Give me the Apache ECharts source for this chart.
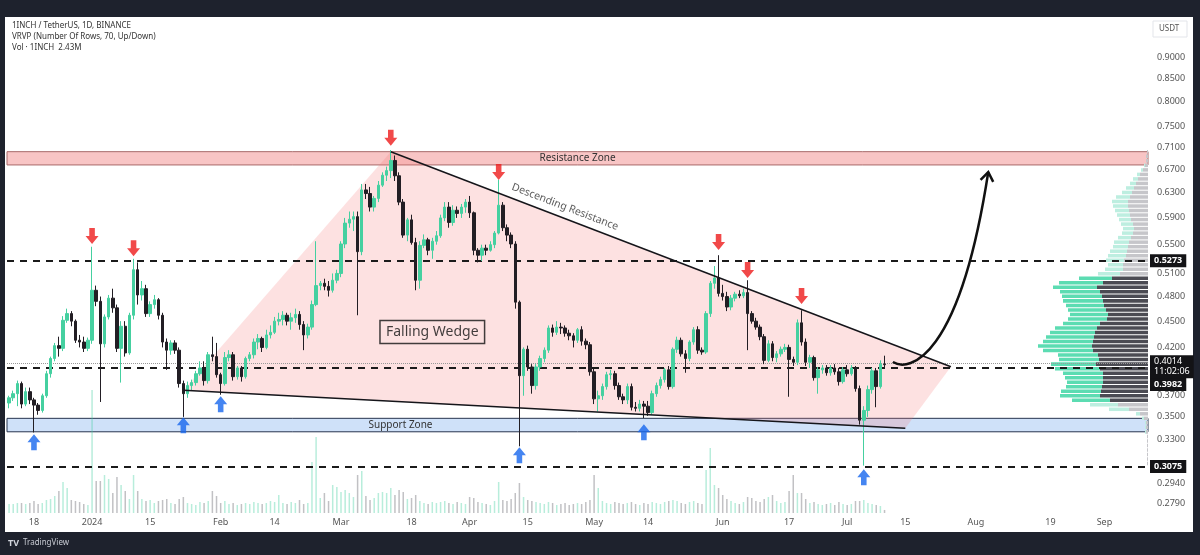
<!DOCTYPE html>
<html><head><meta charset="utf-8">
<script src="https://cdn.jsdelivr.net/npm/echarts@6/dist/echarts.min.js"></script>
<style>html,body{margin:0;padding:0;background:#1e222d;}#c{width:1200px;height:555px;}</style>
</head><body><div id="c"></div>
<script>
// ---------------- DATA ----------------
const startDate = '2023-12-12';   // first daily candle
const dayCount = 275;             // categories shown on the time axis (to Sep 11)
// daily candles [open, high, low, close], from 2023-12-12
const ohlc = [
[.363,.370,.358,.368],[.368,.375,.365,.372],[.372,.385,.360,.382],[.382,.384,.358,.362],[.362,.378,.360,.374],[.374,.378,.362,.366],
[.366,.368,.336,.361],[.361,.363,.352,.356],[.356,.372,.354,.370],[.370,.395,.368,.392],[.392,.410,.388,.408],[.408,.425,.405,.422],
[.422,.432,.410,.419],[.419,.456,.416,.451],[.451,.465,.448,.459],[.459,.462,.444,.450],[.450,.452,.425,.428],[.428,.434,.420,.426],
[.426,.432,.415,.419],[.419,.431,.416,.428],[.428,.547,.424,.488],[.488,.494,.468,.474],[.474,.480,.364,.424],[.424,.458,.420,.455],
[.455,.482,.452,.478],[.478,.490,.460,.466],[.466,.470,.415,.419],[.419,.450,.383,.444],[.444,.450,.410,.414],[.414,.460,.412,.457],
[.457,.530,.452,.515],[.515,.525,.470,.482],[.482,.500,.475,.490],[.490,.495,.455,.459],[.459,.474,.455,.470],[.470,.482,.465,.476],
[.476,.478,.452,.457],[.457,.460,.420,.426],[.426,.430,.396,.417],[.417,.428,.412,.425],[.425,.428,.413,.417],[.417,.420,.378,.382],
[.382,.385,.350,.372],[.372,.384,.368,.380],[.380,.386,.375,.383],[.383,.395,.380,.392],[.392,.405,.390,.398],[.398,.405,.380,.385],
[.385,.415,.382,.412],[.412,.432,.405,.410],[.410,.425,.388,.391],[.391,.393,.371,.382],[.382,.415,.380,.409],[.409,.417,.405,.412],
[.412,.415,.385,.389],[.389,.400,.386,.398],[.398,.400,.384,.389],[.389,.410,.387,.408],[.408,.415,.405,.412],[.412,.430,.408,.426],
[.426,.435,.418,.430],[.430,.432,.415,.420],[.420,.440,.418,.434],[.434,.445,.430,.437],[.437,.455,.435,.450],[.450,.460,.445,.452],
[.452,.462,.445,.457],[.457,.460,.445,.450],[.450,.460,.440,.454],[.454,.465,.448,.458],[.458,.462,.440,.446],[.446,.450,.417,.434],
[.434,.447,.430,.443],[.443,.475,.440,.470],[.470,.555,.468,.494],[.494,.500,.488,.497],[.497,.503,.488,.493],[.493,.500,.480,.488],
[.488,.510,.485,.501],[.501,.515,.497,.510],[.510,.555,.505,.551],[.551,.590,.545,.582],[.582,.600,.575,.588],[.588,.600,.570,.592],
[.592,.600,.457,.540],[.540,.645,.535,.635],[.635,.645,.620,.629],[.629,.640,.600,.607],[.607,.625,.600,.621],[.621,.650,.615,.643],
[.643,.665,.640,.660],[.660,.675,.650,.668],[.668,.705,.655,.686],[.686,.695,.650,.659],[.659,.665,.610,.615],[.615,.620,.560,.564],
[.564,.590,.555,.587],[.587,.595,.550,.553],[.553,.560,.488,.501],[.501,.555,.490,.549],[.549,.565,.545,.557],[.557,.560,.535,.542],
[.542,.560,.530,.555],[.555,.570,.550,.563],[.563,.595,.560,.590],[.590,.615,.585,.607],[.607,.615,.575,.583],[.583,.610,.578,.602],
[.602,.608,.590,.597],[.597,.612,.590,.607],[.607,.620,.598,.615],[.615,.625,.590,.598],[.598,.600,.535,.542],[.542,.545,.525,.535],
[.535,.550,.527,.545],[.545,.550,.535,.542],[.542,.555,.540,.550],[.550,.570,.545,.567],[.567,.652,.565,.610],[.610,.615,.570,.575],
[.575,.580,.555,.564],[.564,.568,.545,.551],[.551,.555,.465,.473],[.473,.475,.324,.390],[.390,.420,.370,.418],[.418,.422,.395,.399],
[.399,.402,.372,.380],[.380,.402,.376,.399],[.399,.411,.395,.408],[.408,.420,.404,.417],[.417,.445,.414,.442],[.442,.446,.432,.437],
[.437,.450,.434,.443],[.443,.448,.435,.442],[.442,.445,.432,.436],[.436,.440,.428,.433],[.433,.436,.420,.428],[.428,.442,.425,.440],
[.440,.444,.422,.427],[.427,.430,.418,.423],[.423,.426,.390,.394],[.394,.397,.362,.367],[.367,.375,.355,.370],[.370,.382,.366,.379],
[.379,.394,.376,.391],[.391,.396,.386,.392],[.392,.395,.376,.380],[.380,.383,.366,.369],[.369,.372,.362,.366],[.366,.382,.362,.379],
[.379,.382,.356,.359],[.359,.364,.355,.358],[.358,.366,.355,.362],[.362,.365,.349,.360],[.360,.365,.351,.354],[.354,.375,.352,.372],
[.372,.383,.369,.380],[.380,.389,.377,.386],[.386,.398,.383,.396],[.396,.400,.376,.379],[.379,.420,.377,.418],[.418,.432,.414,.428],
[.428,.431,.410,.413],[.413,.417,.393,.408],[.408,.428,.405,.426],[.426,.443,.423,.440],[.440,.444,.413,.417],[.417,.420,.412,.415],
[.415,.462,.413,.459],[.459,.500,.455,.497],[.497,.520,.490,.504],[.504,.535,.480,.484],[.484,.495,.475,.480],[.480,.486,.462,.467],
[.467,.482,.463,.478],[.478,.486,.474,.483],[.483,.488,.478,.481],[.481,.490,.478,.485],[.485,.501,.417,.459],[.459,.462,.447,.450],
[.450,.454,.440,.443],[.443,.446,.428,.432],[.432,.435,.402,.406],[.406,.428,.404,.424],[.424,.427,.405,.409],[.409,.416,.404,.413],
[.413,.421,.410,.418],[.418,.424,.415,.420],[.420,.423,.369,.407],[.407,.410,.400,.404],[.404,.452,.401,.448],[.448,.463,.422,.426],
[.426,.430,.400,.404],[.404,.412,.398,.409],[.409,.411,.385,.388],[.388,.399,.372,.396],[.396,.401,.392,.398],[.398,.401,.390,.393],
[.393,.401,.390,.398],[.398,.402,.391,.394],[.394,.398,.380,.384],[.384,.399,.382,.396],[.396,.401,.389,.392],[.392,.401,.390,.398],
[.398,.400,.374,.377],[.377,.380,.343,.347],[.347,.360,.308,.356],[.356,.380,.350,.376],[.376,.398,.372,.395],[.395,.398,.359,.379],
[.379,.406,.377,.402],[.402,.411,.398,.4014]
];
// daily volume, millions of 1INCH
const volumes = [
7.2,7.2,8,8,7.2,8,
9.6,7.2,8,10.4,11.2,13.6,17.6,24.8,20,10.4,9.6,8.8,7.2,6.4,
98.4,25.6,25.6,30.4,27.2,16,28.8,22.4,17.6,11.2,30.4,17.6,11.2,9.6,10.4,8,
9.6,10.4,11.2,8,7.2,11.2,12.8,8,7.2,6.4,8.8,8,9.6,17.6,13.6,8,
9.6,7.2,8,6.4,7.2,8,7.2,8.8,8,7.2,8,9.6,8.8,14.4,8,7.2,
8.8,8,10.4,7.2,8,40.8,60.8,12,16,9.6,22.4,20.8,16.8,18.4,16,12.8,
30.4,33.6,13.6,10.4,12,16,16.8,16,20,14.4,18.4,16.8,11.2,12,14.4,9.6,
8,7.2,8.8,8,8.8,9.6,8,7.2,8.8,8,7.2,12.8,12,8.8,8,7.2,
6.4,9.6,24.8,10.4,9.6,11.2,16,24,12.8,10.4,9.6,8.8,8,7.2,8.8,8,
6.4,7.2,8,6.4,7.2,8,7.2,8.8,10.4,30.4,20,9.6,8,7.2,8.8,8,
7.2,8,8.8,7.2,6.4,8,7.2,8.8,8,7.2,8.8,9.6,10.4,9.6,8,7.2,
8.8,9.6,8,7.2,34.4,52,22.4,20,14.4,11.2,9.6,8,7.2,8.8,12.8,12,
9.6,8.8,11.2,12.8,14.4,9.6,8,8.8,17.6,30.4,16,16,11.2,8,8.8,7.2,
6.4,7.2,8,6.4,8.8,7.2,6.4,7.2,9.6,9.6,10.4,8,7.2,6.4,5.6,2.43
];
// right price-axis tick labels
const priceTicks = [0.9, 0.85, 0.8, 0.75, 0.71, 0.67, 0.63, 0.59, 0.55, 0.51, 0.48, 0.45, 0.42, 0.37, 0.35, 0.33, 0.294, 0.279];
const priceMin = 0.272, priceMax = 0.9996;
// time-axis tick labels
const dateLabels = {'2023-12-18':'18','2024-01-01':'2024','2024-01-15':'15','2024-02-01':'Feb','2024-02-14':'14','2024-03-01':'Mar',
 '2024-03-18':'18','2024-04-01':'Apr','2024-04-15':'15','2024-05-01':'May','2024-05-14':'14','2024-06-01':'Jun','2024-06-17':'17',
 '2024-07-01':'Jul','2024-07-15':'15','2024-08-01':'Aug','2024-08-19':'19','2024-09-01':'Sep'};
// horizontal levels
const dashedLevels = [0.5273, 0.3982, 0.3075];
const lastPrice = 0.4014;
const resistanceZone = [0.678, 0.702];
const supportZone = [0.3366, 0.3487];
// falling wedge polygon [date, price]
const wedgePoints = [['2024-01-23',0.3754],['2024-03-13',0.702],['2024-07-26',0.3993],['2024-07-15',0.3398]];
const lowerTrend = [['2024-01-23',0.3754],['2024-07-15',0.3398]];
const upperTrend = [['2024-03-13',0.702],['2024-07-26',0.3993]];
// arrows [date, price]
const redArrows = [['2024-01-01',0.5626],['2024-01-11',0.545],['2024-03-13',0.728],['2024-04-08',0.6655],['2024-05-31',0.5538],['2024-06-07',0.5145],['2024-06-20',0.4806]];
const blueArrows = [['2023-12-18',0.3275],['2024-01-23',0.3425],['2024-02-01',0.3619],['2024-04-13',0.3165],['2024-05-13',0.3362],['2024-07-05',0.2988]];
// projected breakout curve: start, control1, control2, end
const curvePoints = [['2024-07-12',0.4042],['2024-07-16',0.3937],['2024-07-28',0.4063],['2024-08-04',0.6655]];
const wedgeLabelAt = ['2024-03-23', 0.4373];
const descLabelAt = ['2024-04-24', 0.6071];
// volume profile (VRVP, 70 rows) up / down volume per row, top row first
const vpHigh = 0.705, vpLow = 0.3075, vpRows = 70, vpValueArea = [28, 55];
const vpUp = [0,0,0,1,2,3,5,6,8,10, 14,16,15,14,13,12,12,11,11,13, 15,15,17,18,18,15,18,22,33,44, 44,40,40,40,38,38,38,39,37,42,
 45,48,50,54,50,40,40,45,45,40, 38,36,36,40,40,38,28,20,4,2, 1,1,1,0,0,0,0,0,0,0];
const vpDown = [1,2,2,3,5,8,10,12,14,16, 18,20,20,19,18,17,15,14,15,17, 19,20,21,22,24,25,25,28,36,45, 51,48,46,45,44,42,40,41,48,51,
 53,54,55,56,55,50,49,52,48,45, 45,45,46,47,48,38,30,19,8,4, 2,2,2,1,1,1,1,1,1,1];

// ---------------- BUILD ----------------
const L = Math.log;
const categories = [];
{ const t0 = Date.parse(startDate + 'T00:00:00Z'); for (let i = 0; i < dayCount; i++) categories.push(new Date(t0 + i * 864e5).toISOString().slice(0, 10)); }
const ci = d => categories.indexOf(d);
const UP = '#45d0a0', DOWN = '#221e24';
const FONT = 'Noto Sans';

const candleData = ohlc.map(r => [L(r[0]), L(r[3]), L(r[2]), L(r[1])]);
const volData = volumes.map((v, i) => ({ value: v, itemStyle: { color: ohlc[i][3] >= ohlc[i][0] ? 'rgba(69,208,160,0.38)' : 'rgba(100,100,108,0.40)' } }));

const boxLabel = (txt, extra) => Object.assign({ show: true, position: 'end', distance: 2, formatter: txt, color: '#fff', backgroundColor: '#131316',
  padding: [2, 4, 1, 4], fontSize: 9, fontWeight: 'bold', fontFamily: FONT, lineHeight: 10 }, extra || {});
const dashStyle = { color: '#1b1b1b', width: 2, type: [7, 6] };

const arrowDown = 'path://M4,0 L10,0 L10,8 L14,8 L7,16 L0,8 L4,8 Z';
const arrowUp = 'path://M7,0 L14,8 L10,8 L10,16 L4,16 L4,8 L0,8 Z';

const option = {
  backgroundColor: '#1e222d',
  animation: false,
  graphic: [
    { type: 'rect', z: -100, silent: true, shape: { x: 5, y: 17, width: 1188, height: 515 }, style: { fill: '#ffffff' } },
    { type: 'text', z: 50, left: 12, top: 22, style: { text: '1INCH / TetherUS, 1D, BINANCE', fill: '#333', font: '8px "Noto Sans"' } },
    { type: 'text', z: 50, left: 12, top: 33, style: { text: 'VRVP (Number Of Rows, 70, Up/Down)', fill: '#333', font: '8px "Noto Sans"' } },
    { type: 'text', z: 50, left: 12, top: 44, style: { text: 'Vol · 1INCH  2.43M', fill: '#333', font: '8px "Noto Sans"' } },
    { type: 'rect', z: 50, shape: { x: 1153, y: 21, width: 34, height: 16 }, style: { fill: '#fff', stroke: '#e3e5ea', lineWidth: 1 } },
    { type: 'text', z: 51, left: 1159, top: 25, style: { text: 'USDT', fill: '#555', font: '8px "Noto Sans"' } },
    { type: 'text', z: 50, left: 8, top: 539, style: { text: 'TV', fill: '#d1d4dc', font: 'bold 9px "Noto Sans"' } },
    { type: 'text', z: 50, left: 23, top: 539, style: { text: 'TradingView', fill: '#c8cbd3', font: '8px "Noto Sans"' } }
  ],
  grid: [
    { left: 7, right: 52, top: 17, bottom: 42 },
    { left: 7, right: 52, top: 388, bottom: 42 }
  ],
  xAxis: [
    { type: 'category', data: categories, boundaryGap: true, gridIndex: 0,
      axisLine: { show: false }, axisTick: { show: false }, splitLine: { show: false },
      axisLabel: { interval: (i, v) => Object.prototype.hasOwnProperty.call(dateLabels, v), formatter: v => dateLabels[v] || '',
        color: '#555', fontSize: 9, fontFamily: FONT, margin: 5 } },
    { type: 'category', data: categories, boundaryGap: true, gridIndex: 1, show: false }
  ],
  yAxis: [
    { type: 'value', position: 'right', min: L(priceMin), max: L(priceMax), gridIndex: 0,
      axisLine: { show: false }, axisTick: { show: false }, splitLine: { show: false },
      axisLabel: { customValues: priceTicks.map(L), formatter: v => Math.exp(v).toFixed(4), color: '#555', fontSize: 9, fontFamily: FONT, margin: 9 } },
    { type: 'value', min: 0, max: 100, gridIndex: 1, show: false, splitLine: { show: false } }
  ],
  series: [
    { // zones
      type: 'line', data: [], z: 1, silent: true,
      markArea: { silent: true, data: [
        [{ yAxis: L(resistanceZone[1]), itemStyle: { color: '#f8c5c5', borderColor: '#a86a6a', borderWidth: 1 },
           label: { show: true, position: 'inside', formatter: 'Resistance Zone', color: '#333', fontSize: 10, fontFamily: FONT } },
         { yAxis: L(resistanceZone[0]) }],
        [{ yAxis: L(supportZone[1]), itemStyle: { color: '#cfe1f9', borderColor: '#27344f', borderWidth: 1 },
           label: { show: true, position: 'inside', formatter: 'Support Zone', color: '#333', fontSize: 10, fontFamily: FONT, offset: [-177, 0] } },
         { yAxis: L(supportZone[0]) }]
      ] }
    },
    { // wedge fill
      type: 'custom', z: 2, silent: true, data: [[ci(wedgePoints[0][0]), L(wedgePoints[0][1])]], clip: true,
      renderItem: (params, api) => ({ type: 'polygon',
        shape: { points: wedgePoints.map(p => api.coord([ci(p[0]), L(p[1])])) },
        style: { fill: 'rgba(244,120,120,0.22)' } })
    },
    { // volume profile
      type: 'custom', z: 3, silent: true, clip: false,
      data: vpUp.map((u, i) => [i, u, vpDown[i]]), encode: { x: 0, y: 1 },
      renderItem: (params, api) => {
        const i = api.value(0), up = api.value(1), dn = api.value(2);
        const step = (L(vpHigh) - L(vpLow)) / vpRows;
        const yTop = api.coord([0, L(vpHigh) - i * step])[1];
        const yBot = api.coord([0, L(vpHigh) - (i + 1) * step])[1];
        const cs = params.coordSys, right = cs.x + cs.width;
        const inVA = i >= vpValueArea[0] && i <= vpValueArea[1];
        const h = Math.max(1, yBot - yTop - 1);
        return { type: 'group', children: [
          { type: 'rect', shape: { x: right - dn - up, y: yTop, width: up, height: h }, style: { fill: inVA ? '#5cdcb2' : '#bdeee0' } },
          { type: 'rect', shape: { x: right - dn, y: yTop, width: dn, height: h }, style: { fill: inVA ? '#4b4b53' : '#c6c6ca' } }
        ] };
      }
    },
    { type: 'bar', xAxisIndex: 1, yAxisIndex: 1, data: volData, barWidth: 1.5, z: 2, silent: true },
    { type: 'candlestick', data: candleData, z: 5, barWidth: '72%',
      itemStyle: { color: UP, color0: DOWN, borderColor: UP, borderColor0: DOWN, borderWidth: 1 } },
    { type: 'line', z: 6, silent: true, symbol: 'none', data: lowerTrend.map(p => [ci(p[0]), L(p[1])]), lineStyle: { color: '#15151a', width: 1.5 } },
    { type: 'line', z: 6, silent: true, symbol: 'none', data: upperTrend.map(p => [ci(p[0]), L(p[1])]), lineStyle: { color: '#15151a', width: 1.5 } },
    { // horizontal levels
      type: 'line', data: [], z: 7, silent: true,
      markLine: { silent: true, symbol: 'none', data: [
        { yAxis: L(dashedLevels[0]), lineStyle: dashStyle, label: boxLabel(dashedLevels[0].toFixed(4)) },
        { yAxis: L(dashedLevels[1]), lineStyle: dashStyle, label: boxLabel(dashedLevels[1].toFixed(4), { offset: [0, 17] }) },
        { yAxis: L(dashedLevels[2]), lineStyle: dashStyle, label: boxLabel(dashedLevels[2].toFixed(4)) },
        { yAxis: L(lastPrice), lineStyle: { color: '#999', width: 1, type: 'dotted' }, label: boxLabel(lastPrice.toFixed(4) + '\n11:02:06', { fontWeight: 'normal', offset: [0, 3] }) }
      ] }
    },
    { type: 'scatter', z: 8, silent: true, symbol: arrowDown, symbolSize: [13, 16], itemStyle: { color: '#ee1c1c' },
      data: redArrows.map(p => [ci(p[0]), L(p[1])]) },
    { type: 'scatter', z: 8, silent: true, symbol: arrowUp, symbolSize: [13, 16], itemStyle: { color: '#1666ee' },
      data: blueArrows.map(p => [ci(p[0]), L(p[1])]) },
    { type: 'scatter', z: 9, silent: true, symbolSize: 0, data: [[ci(wedgeLabelAt[0]), L(wedgeLabelAt[1])]],
      label: { show: true, position: 'inside', formatter: 'Falling Wedge', color: '#111', fontSize: 14, fontFamily: FONT,
        borderColor: '#111', borderWidth: 1.5, padding: [5, 6, 4, 6] } },
    { type: 'scatter', z: 9, silent: true, symbolSize: 0, data: [[ci(descLabelAt[0]), L(descLabelAt[1])]],
      label: { show: true, position: 'inside', formatter: 'Descending Resistance', color: '#333', fontSize: 10.5, fontFamily: FONT, rotate: -21 } },
    { // projected move
      type: 'custom', z: 9, silent: true, clip: false, data: [[ci(curvePoints[0][0]), L(curvePoints[0][1])]],
      renderItem: (params, api) => {
        const P = curvePoints.map(p => api.coord([ci(p[0]), L(p[1])]));
        const [p0, c1, c2, p3] = P;
        const ang = Math.atan2(p3[1] - c2[1], p3[0] - c2[0]);
        const len = 11, sp = 0.62;
        const a1 = [p3[0] - len * Math.cos(ang - sp), p3[1] - len * Math.sin(ang - sp)];
        const a2 = [p3[0] - len * Math.cos(ang + sp), p3[1] - len * Math.sin(ang + sp)];
        return { type: 'group', children: [
          { type: 'bezierCurve', shape: { x1: p0[0], y1: p0[1], cpx1: c1[0], cpy1: c1[1], cpx2: c2[0], cpy2: c2[1], x2: p3[0], y2: p3[1] },
            style: { stroke: '#111', lineWidth: 2.5, fill: 'none' } },
          { type: 'polyline', shape: { points: [a1, p3, a2] }, style: { stroke: '#111', lineWidth: 2.5, fill: 'none' } }
        ] };
      }
    }
  ]
};
const chart = echarts.init(document.getElementById('c'), null, { renderer: 'canvas' });
chart.setOption(option);
</script></body></html>
